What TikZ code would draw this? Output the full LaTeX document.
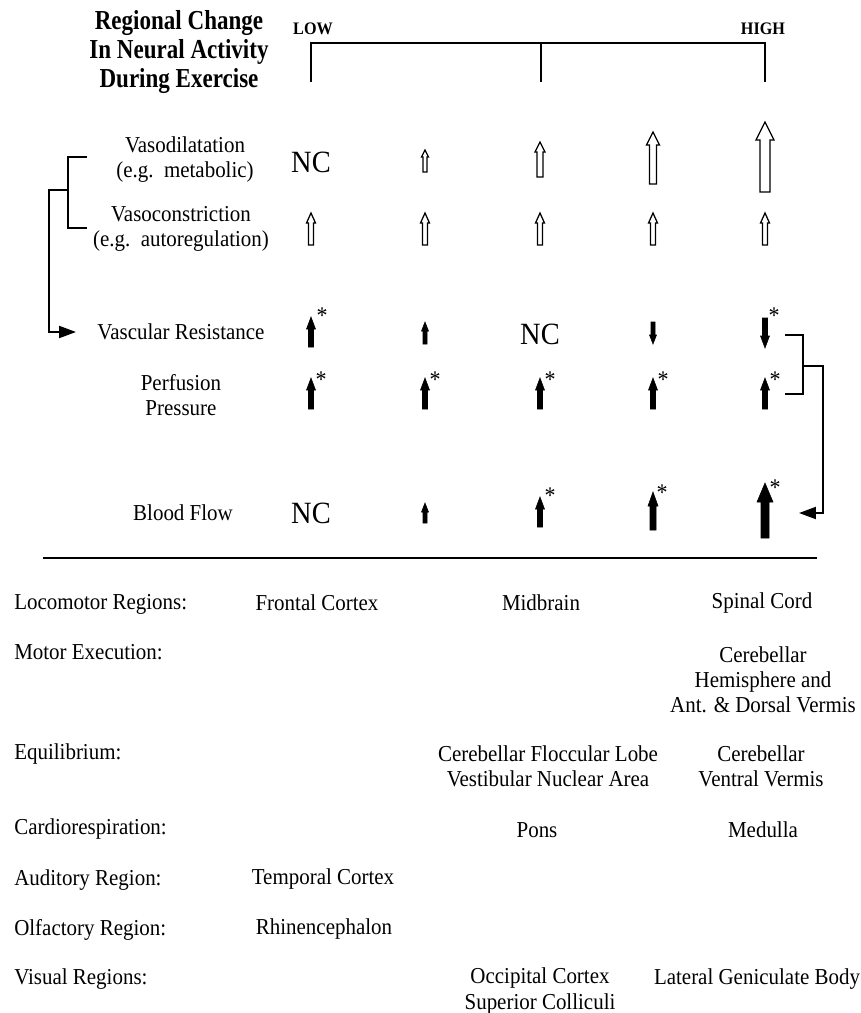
\documentclass[tikz,border=0pt]{standalone}
\usepackage{fontspec}
\setmainfont{Liberation Serif}[FakeStretch=0.92]
\newfontfamily\headfont{Liberation Serif}[FakeStretch=0.84]
\usetikzlibrary{arrows.meta}

% block arrow: [style]{x}{tip y}{base y}{shaft width}{head width}{head length}
\newcommand{\blockarr}[7][]{%
  \draw[#1] (#2,#3) -- ({#2+#6/2},{#3+#7}) -- ({#2+#5/2},{#3+#7}) -- ({#2+#5/2},#4)
    -- ({#2-#5/2},#4) -- ({#2-#5/2},{#3+#7}) -- ({#2-#6/2},{#3+#7}) -- cycle;}

\tikzset{
  hollowarr/.style={draw=black, line width=0.9pt, fill=white, line join=miter},
  fullarr/.style={draw=black, line width=0.4pt, fill=black},
  rowlabel/.style={font=\fontsize{16.2}{17.8}\selectfont, align=center, inner sep=1pt},
  catlabel/.style={font=\fontsize{16.2}{17.8}\selectfont, anchor=base west, inner sep=0pt},
  region/.style={font=\fontsize{16.2}{17.8}\selectfont, align=center, inner sep=1pt},
  nochange/.style={font=\fontsize{22}{22}\selectfont, inner sep=0pt},
  star/.style={font=\fontsize{17}{17}\selectfont, inner sep=0pt, anchor=north},
  link/.style={line width=1.4pt},
  linkarr/.style={link, -{Triangle[length=12pt,width=8.5pt]}},
}

\begin{document}
\begin{tikzpicture}[x=0.025cm, y=-0.025cm]
\useasboundingbox (0,0) rectangle (861,1013);

% header
\node[font=\headfont\bfseries\fontsize{19.5}{20.6}\selectfont, align=center] (head) at (179,52)
  {Regional Change\\In Neural Activity\\During Exercise};
\node[font=\bfseries\fontsize{12.5}{12}\selectfont] (low) at (313,29) {LOW};
\node[font=\bfseries\fontsize{12.5}{12}\selectfont] (high) at (763,29) {HIGH};
\draw[line width=2pt] (311,82) -- (311,43) -- (765,43) -- (765,82);
\draw[line width=2pt] (541,43) -- (541,82);

% row labels
\node[rowlabel] (vd) at (185,160) {Vasodilatation\\(e.g.~~metabolic)};
\node[rowlabel] (vc) at (181,229) {Vasoconstriction\\(e.g.~~autoregulation)};
\node[rowlabel] (vr) at (181,332) {Vascular Resistance};
\node[rowlabel] (pp) at (181,395) {Perfusion\\Pressure};
\node[rowlabel] (bf) at (183,513) {Blood Flow};

% vasodilatation
\node[nochange] (nc1) at (311,162) {NC};
\blockarr[hollowarr]{425}{150}{172}{4}{7}{7}
\blockarr[hollowarr]{540}{142}{177}{6}{10}{10}
\blockarr[hollowarr]{653}{132}{184}{7}{13}{13}
\blockarr[hollowarr]{765}{122}{192}{10}{18}{18}

% vasoconstriction
\foreach \cx in {311,425,540,653,765}{
  \blockarr[hollowarr]{\cx}{213}{245}{5}{9}{10}
}

% vascular resistance
\blockarr[fullarr]{311}{317}{347}{5}{9}{12}
\node[star] at (322,308) {*};
\blockarr[fullarr]{425}{322}{344}{4}{7}{9}
\node[nochange] (nc2) at (540,334) {NC};
\blockarr[fullarr]{653}{344}{322}{4}{7}{-9}
\blockarr[fullarr]{765}{348}{318}{5}{9}{-12}
\node[star] at (774,308) {*};

% perfusion pressure
\foreach \cx in {311,425,540,653,765}{
  \blockarr[fullarr]{\cx}{378}{409}{5}{9}{12}
  \node[star] at (\cx+10,372) {*};
}

% blood flow
\node[nochange] (nc3) at (311,513) {NC};
\blockarr[fullarr]{425}{503}{523}{4}{7}{9}
\blockarr[fullarr]{540}{497}{527}{5}{9}{12}
\node[star] at (550,488) {*};
\blockarr[fullarr]{653}{492}{530}{6}{10}{14}
\node[star] at (662,485) {*};
\blockarr[fullarr]{765}{483}{538}{8}{16}{19}
\node[star] at (775,480) {*};

% brackets
\coordinate (vrin) at (76,332);
\coordinate (bfin) at (799,513);
\draw[link] (87,157) -- (68,157) -- (68,228) -- (87,228);
\draw[linkarr] (68,190) -- (49,190) |- (vrin);
\draw[link] (785,335) -- (803,335) -- (803,394) -- (785,394);
\draw[linkarr] (803,366) -- (823,366) |- (bfin);

\draw[line width=1.4pt] (43,558) -- (817,558);

% regions
\node[catlabel] (loco) at (14,609) {Locomotor Regions:};
\node[catlabel] (motor) at (14,659) {Motor Execution:};
\node[catlabel] (equi) at (14,759) {Equilibrium:};
\node[catlabel] (cardio) at (14,834) {Cardiorespiration:};
\node[catlabel] (audi) at (14,885) {Auditory Region:};
\node[catlabel] (olfa) at (14,935) {Olfactory Region:};
\node[catlabel] (visu) at (14,984) {Visual Regions:};

\node[region] (front) at (317,603) {Frontal Cortex};
\node[region] (midb) at (541,603) {Midbrain};
\node[region] (spin) at (762,603) {Spinal Cord};
\node[region] (cereb) at (763,680) {Cerebellar\\Hemisphere and\\Ant. \& Dorsal Vermis};
\node[region] (flocc) at (548,766) {Cerebellar Floccular Lobe\\Vestibular Nuclear Area};
\node[region] (ventr) at (761,766) {Cerebellar\\Ventral Vermis};
\node[region] (pons) at (537,830) {Pons};
\node[region] (medu) at (763,830) {Medulla};
\node[region] (temp) at (323,879) {Temporal Cortex};
\node[region] (rhin) at (324,929) {Rhinencephalon};
\node[region] (occi) at (540,991) {Occipital Cortex\\Superior Colliculi};
\node[region] (late) at (757,979) {Lateral Geniculate Body};
\end{tikzpicture}
\end{document}
